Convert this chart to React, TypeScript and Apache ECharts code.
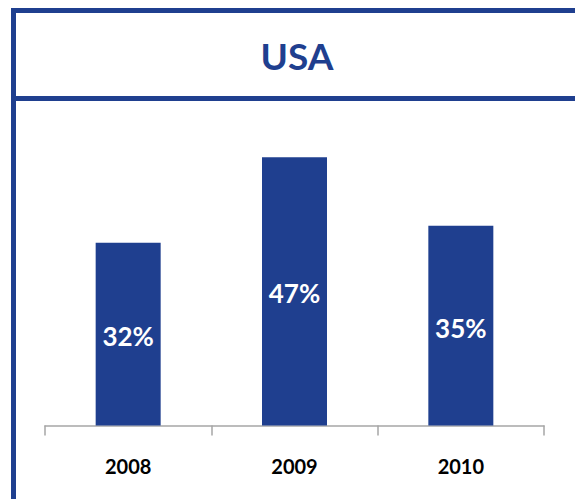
import React, { useEffect, useRef } from "react";
import * as echarts from "echarts";

const categories = ["2008", "2009", "2010"];
const values = [32, 47, 35];
const titleText = "USA";

const BLUE = "#1f3f8f";

export default function App() {
  const ref = useRef<HTMLDivElement>(null);
  useEffect(() => {
    if (!ref.current) return;
    const chart = echarts.init(ref.current, null, { renderer: "svg" });
    chart.setOption({
      animation: false,
      backgroundColor: "#ffffff",
      graphic: [
        { type: "rect", shape: { x: 11, y: 8, width: 564, height: 5 }, style: { fill: BLUE } },
        { type: "rect", shape: { x: 11, y: 8, width: 5, height: 491 }, style: { fill: BLUE } },
        { type: "rect", shape: { x: 11, y: 96, width: 564, height: 5 }, style: { fill: BLUE } },
        {
          type: "text",
          x: 297,
          y: 55,
          style: {
            text: titleText,
            fill: BLUE,
            font: "bold 37px Lato, 'Open Sans', sans-serif",
            textAlign: "center",
            textVerticalAlign: "middle",
          },
        },
      ],
      grid: { left: 45, right: 31, top: 140, bottom: 73.5, containLabel: false },
      xAxis: {
        type: "category",
        data: categories,
        boundaryGap: true,
        axisLine: { show: true, lineStyle: { color: "#a6a6a6", width: 1.5 } },
        axisTick: { show: true, length: 10, lineStyle: { color: "#a6a6a6", width: 1.5 } },
        axisLabel: {
          color: "#000000",
          fontWeight: "bold",
          fontSize: 20,
          fontFamily: "Lato, 'Open Sans', sans-serif",
          margin: 30,
        },
      },
      yAxis: {
        type: "value",
        min: 0,
        max: 50,
        show: false,
        splitLine: { show: false },
      },
      series: [
        {
          type: "bar",
          data: values,
          barWidth: 65,
          itemStyle: { color: BLUE },
          label: {
            show: true,
            position: "inside",
            offset: [0, 2],
            formatter: "{c}%",
            color: "#ffffff",
            fontWeight: "bold",
            fontSize: 26,
            fontFamily: "Lato, 'Open Sans', sans-serif",
          },
        },
      ],
    });
    return () => chart.dispose();
  }, []);
  return (
    <div
      ref={ref}
      style={{ position: "fixed", left: 0, top: 0, width: 575, height: 499 }}
    />
  );
}
